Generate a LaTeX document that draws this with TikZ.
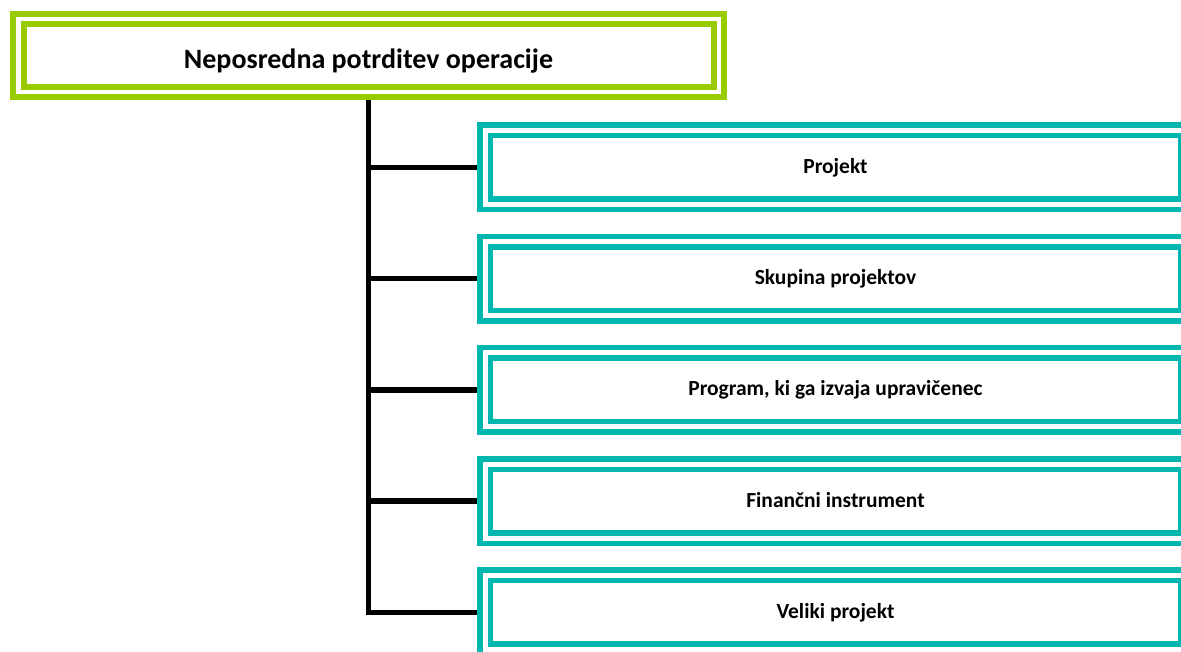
\documentclass[tikz,border=0pt]{standalone}
\usepackage{fontspec}
\setmainfont{Carlito}
\usepackage{tikz}
\usepackage{xcolor}

\definecolor{limegreen}{RGB}{153,204,0}
\definecolor{tealbox}{RGB}{0,183,175}

\tikzset{
  headbox/.style={draw=limegreen, double, line width=6pt, double distance=4.5pt,
    minimum width=700.5pt, minimum height=73.25pt, outer sep=8.25pt, inner sep=0pt,
    text height=25pt, text depth=0pt,
    font=\fontsize{28}{32}\selectfont\bfseries},
  itembox/.style={draw=tealbox, double, line width=5.5pt, double distance=5pt,
    minimum width=700.5pt, minimum height=74pt, outer sep=8pt, inner sep=0pt,
    text height=12pt, text depth=0pt,
    font=\fontsize{21.5}{25}\selectfont\bfseries},
  branch/.style={line width=5.5pt, black}
}

\begin{document}
\begin{tikzpicture}[x=1pt,y=-1pt]
\useasboundingbox (0,0) rectangle (1181,651);

\node [headbox] (head) at (368.5,55.6) {Neposredna potrditev operacije};

\foreach \name/\txt [count=\i from 0] in {b1/Projekt, b2/Skupina projektov, b3/{Program, ki ga izvaja upravičenec}, b4/Finančni instrument, b5/Veliki projekt}
  \node [itembox] (\name) at (835.5,167.25+111.3*\i) {\txt};

% trunk and branches
\draw [branch] (head.south) |- (b5.west);
\foreach \name in {b1,b2,b3,b4}
  \draw [branch] (head.south |- \name.west) -- (\name.west);
\end{tikzpicture}
\end{document}
